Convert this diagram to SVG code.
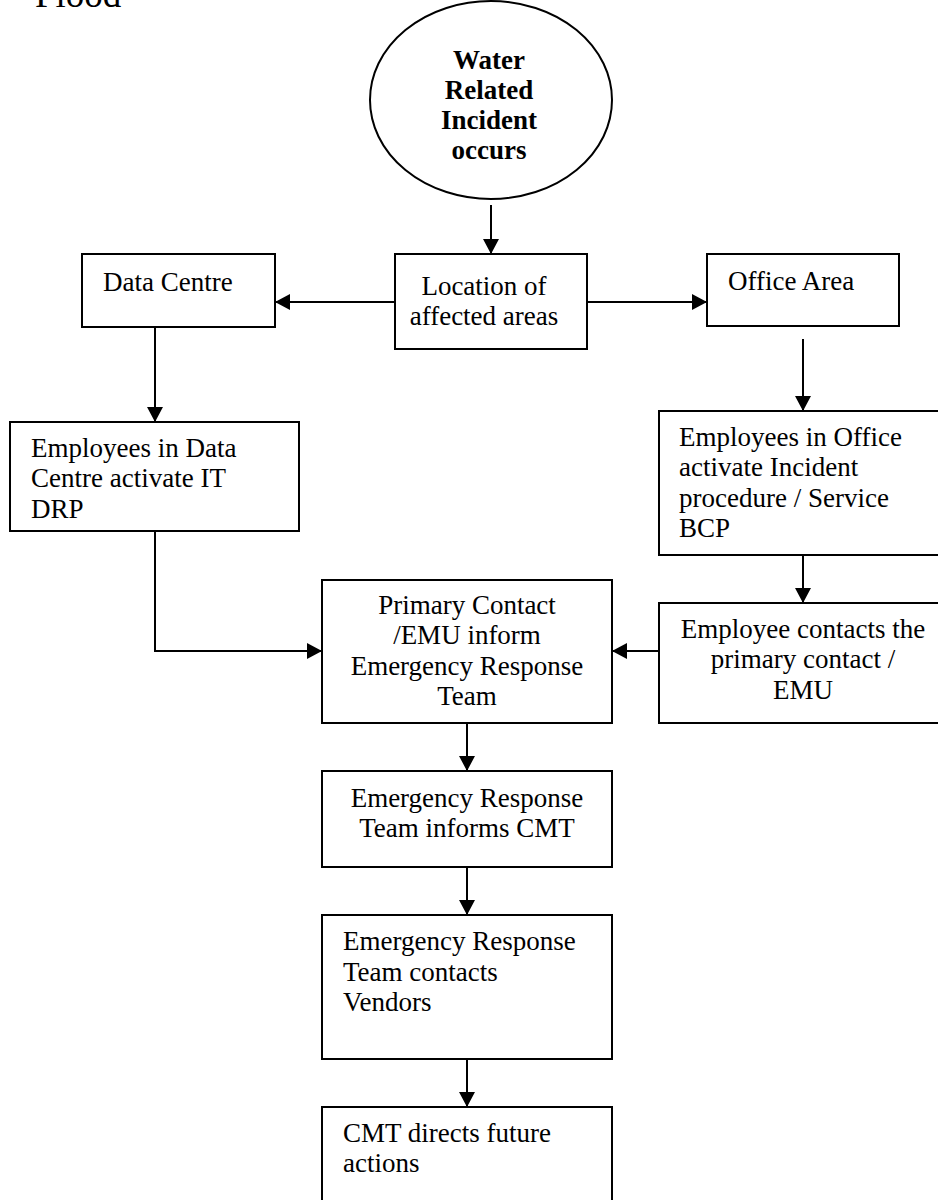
<svg xmlns="http://www.w3.org/2000/svg" width="938" height="1200" viewBox="0 0 938 1200">
  <style>
    .box { fill: #ffffff; stroke: #000000; stroke-width: 2; }
    .txt { font-family: "Liberation Serif", "Times New Roman", serif; font-size: 27px; fill: #000000; }
    .mid { text-anchor: middle; }
    .bold { font-weight: bold; }
    .conn { fill: none; stroke: #000000; stroke-width: 2; marker-end: url(#arrow); }
  </style>
  <defs>
    <marker id="arrow" viewBox="0 0 15 16" refX="15" refY="8" markerWidth="15" markerHeight="16" markerUnits="userSpaceOnUse" orient="auto">
      <path d="M0,0 L15,8 L0,16 z" fill="#000000"/>
    </marker>
  </defs>
  <rect width="938" height="1200" fill="#ffffff"/>

  <!-- page heading -->
  <text class="txt" x="35" y="7" style="font-size:37px">Flood</text>

  <!-- connectors -->
  <g id="connectors">
    <line class="conn" x1="491" y1="205" x2="491" y2="254"/>
    <line class="conn" x1="395" y1="302" x2="275" y2="302"/>
    <line class="conn" x1="587" y1="302" x2="707" y2="302"/>
    <line class="conn" x1="155" y1="327" x2="155" y2="422"/>
    <line class="conn" x1="803" y1="339" x2="803" y2="411"/>
    <path class="conn" d="M155,531 V651 H322"/>
    <line class="conn" x1="803" y1="555" x2="803" y2="603"/>
    <line class="conn" x1="659" y1="651" x2="612" y2="651"/>
    <line class="conn" x1="467" y1="723" x2="467" y2="771"/>
    <line class="conn" x1="467" y1="867" x2="467" y2="915"/>
    <line class="conn" x1="467" y1="1059" x2="467" y2="1107"/>
  </g>

  <!-- start event -->
  <g id="incident">
    <ellipse class="box" cx="491" cy="100" rx="121" ry="99"/>
    <text class="txt mid bold" x="489" y="69">Water</text>
    <text class="txt mid bold" x="489" y="99">Related</text>
    <text class="txt mid bold" x="489" y="129">Incident</text>
    <text class="txt mid bold" x="489" y="159">occurs</text>
  </g>

  <g id="location">
    <rect class="box" x="395" y="254" width="192" height="95"/>
    <text class="txt mid" x="484" y="295">Location of</text>
    <text class="txt mid" x="484" y="325">affected areas</text>
  </g>

  <g id="data-centre">
    <rect class="box" x="82" y="254" width="193" height="73"/>
    <text class="txt" x="103" y="291">Data Centre</text>
  </g>

  <g id="office-area">
    <rect class="box" x="707" y="254" width="192" height="72"/>
    <text class="txt" x="728" y="290">Office Area</text>
  </g>

  <g id="dc-employees">
    <rect class="box" x="10" y="422" width="289" height="109"/>
    <text class="txt" x="31" y="457">Employees in Data</text>
    <text class="txt" x="31" y="487">Centre activate IT</text>
    <text class="txt" x="31" y="518">DRP</text>
  </g>

  <g id="office-employees">
    <rect class="box" x="659" y="411" width="300" height="144"/>
    <text class="txt" x="679" y="446">Employees in Office</text>
    <text class="txt" x="679" y="476">activate Incident</text>
    <text class="txt" x="679" y="507">procedure / Service</text>
    <text class="txt" x="679" y="537">BCP</text>
  </g>

  <g id="employee-contacts">
    <rect class="box" x="659" y="603" width="300" height="120"/>
    <text class="txt mid" x="803" y="638">Employee contacts the</text>
    <text class="txt mid" x="803" y="668">primary contact /</text>
    <text class="txt mid" x="803" y="699">EMU</text>
  </g>

  <g id="primary-contact">
    <rect class="box" x="322" y="580" width="290" height="143"/>
    <text class="txt mid" x="467" y="614">Primary Contact</text>
    <text class="txt mid" x="467" y="644">/EMU inform</text>
    <text class="txt mid" x="467" y="675">Emergency Response</text>
    <text class="txt mid" x="467" y="705">Team</text>
  </g>

  <g id="ert-informs">
    <rect class="box" x="322" y="771" width="290" height="96"/>
    <text class="txt mid" x="467" y="807">Emergency Response</text>
    <text class="txt mid" x="467" y="837">Team informs CMT</text>
  </g>

  <g id="ert-vendors">
    <rect class="box" x="322" y="915" width="290" height="144"/>
    <text class="txt" x="343" y="950">Emergency Response</text>
    <text class="txt" x="343" y="981">Team contacts</text>
    <text class="txt" x="343" y="1011">Vendors</text>
  </g>

  <g id="cmt-directs">
    <rect class="box" x="322" y="1107" width="290" height="110"/>
    <text class="txt" x="343" y="1142">CMT directs future</text>
    <text class="txt" x="343" y="1172">actions</text>
  </g>
</svg>
